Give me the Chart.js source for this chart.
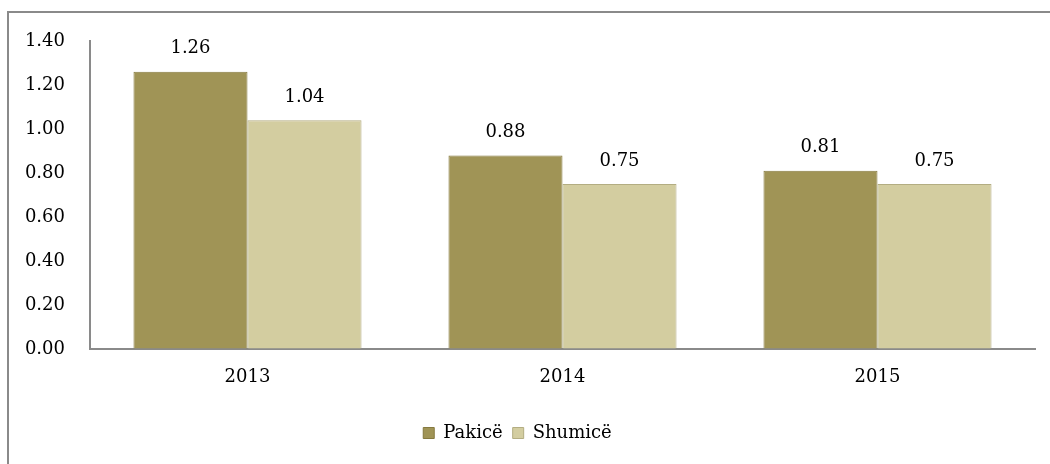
<!DOCTYPE html>
<html>
<head>
<meta charset="utf-8">
<script src="https://cdn.jsdelivr.net/npm/chart.js@4"></script>
<style>
  html, body { margin: 0; padding: 0; background: #fff; }
  #wrap { position: relative; width: 1050px; height: 464px; }
  #frame { position: absolute; left: 7px; top: 11px; right: 0; bottom: 0;
           border-left: 2px solid #8a8a8a; border-top: 2px solid #8a8a8a; }
  canvas { position: absolute; left: 0; top: 0; }
</style>
</head>
<body>
<div id="wrap">
  <div id="frame"></div>
  <canvas id="barChart" width="1050" height="464"></canvas>
</div>
<script>
    var years = ['2013', '2014', '2015'];
    var pakice = [1.26, 0.88, 0.81];
    var shumice = [1.04, 0.75, 0.75];
    var yTicks = [0, 0.2, 0.4, 0.6, 0.8, 1.0, 1.2, 1.4];

    var fontFamily = "'DejaVu Serif', 'Liberation Serif', serif";

    // write the value above each bar
    var valueLabels = {
        id: 'valueLabels',
        afterDatasetsDraw(chart) {
            var c = chart.ctx;
            c.save();
            c.font = '18px ' + fontFamily;
            c.fillStyle = '#000';
            c.textAlign = 'center';
            c.textBaseline = 'bottom';
            chart.data.datasets.forEach((ds, i) => {
                chart.getDatasetMeta(i).data.forEach((bar, j) => {
                    c.fillText(ds.data[j].toFixed(2), bar.x, bar.y - 14);
                });
            });
            c.restore();
        }
    };

    var ctx = document.getElementById('barChart').getContext('2d');

    var barChart = new Chart(ctx, {
        type: 'bar',
        data: {
            labels: years,
            datasets: [{
                label: 'Pakicë',
                data: pakice,
                backgroundColor: '#a09456',
                borderColor: '#85793f',
                borderWidth: 1
            }, {
                label: 'Shumicë',
                data: shumice,
                backgroundColor: '#d3cda0',
                borderColor: '#b3ad82',
                borderWidth: 1
            }]
        },
        options: {
            responsive: false,
            animation: false,
            events: [],
            layout: { padding: { top: 41, right: 15, bottom: 12, left: 0 } },
            datasets: {
                bar: { categoryPercentage: 0.724, barPercentage: 1 }
            },
            scales: {
                x: {
                    grid: { drawOnChartArea: false, drawTicks: false },
                    border: { color: '#8a8a8a', width: 2 },
                    ticks: { color: '#000', padding: 18, font: { family: fontFamily, size: 18 } },
                    afterFit: s => { s.height = 65; }
                },
                y: {
                    min: 0,
                    max: 1.4,
                    afterBuildTicks: s => { s.ticks = yTicks.map(v => ({ value: v })); },
                    grid: { drawOnChartArea: false, drawTicks: false },
                    border: { color: '#8a8a8a', width: 2 },
                    ticks: {
                        color: '#000',
                        padding: 25,
                        font: { family: fontFamily, size: 18 },
                        callback: v => Number(v).toFixed(2)
                    },
                    afterFit: s => { s.width = 90; }
                }
            },
            plugins: {
                legend: {
                    position: 'bottom',
                    labels: {
                        color: '#000',
                        boxWidth: 11,
                        boxHeight: 11,
                        padding: 10,
                        font: { family: fontFamily, size: 18 }
                    }
                },
                tooltip: { enabled: false }
            }
        },
        plugins: [valueLabels]
    });
</script>
</body>
</html>
